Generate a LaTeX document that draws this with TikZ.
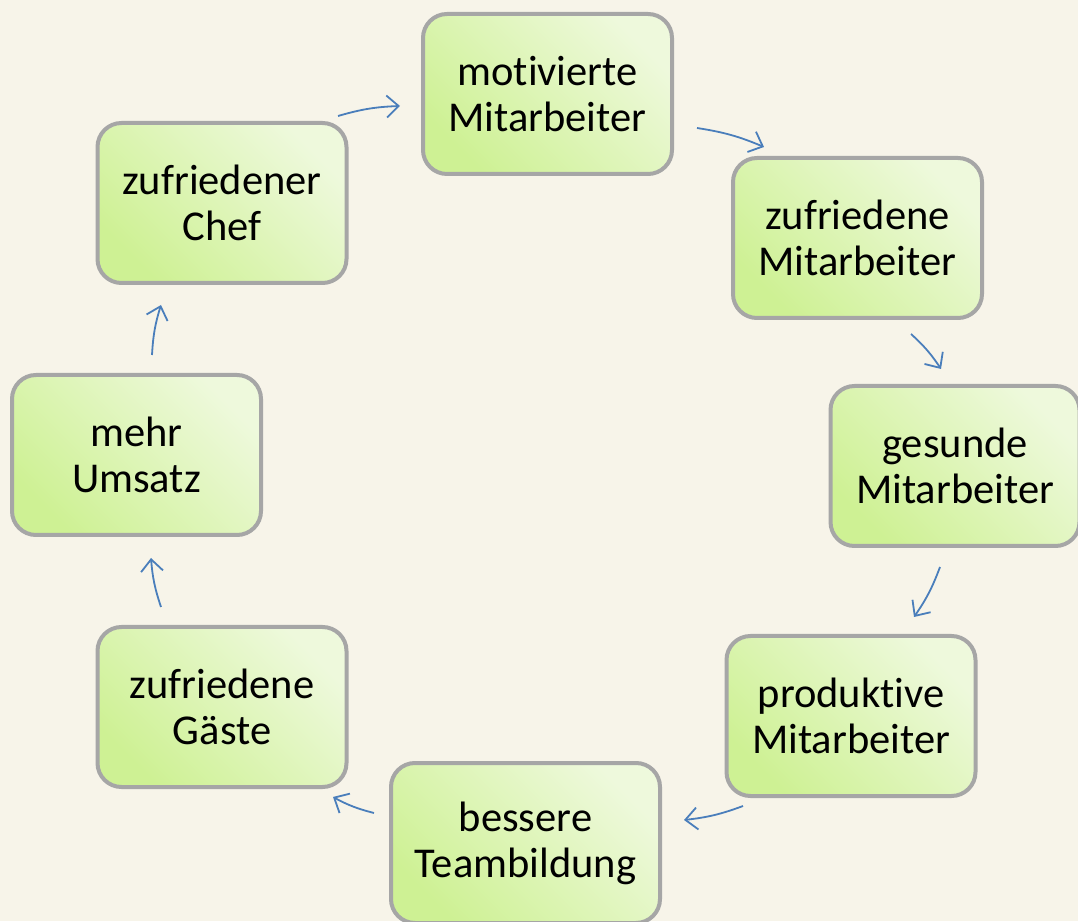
\documentclass[tikz,border=0pt]{standalone}
\usepackage{fontspec}
\setmainfont[Ligatures=NoCommon]{Carlito}
\usetikzlibrary{arrows.meta}
\definecolor{bg}{RGB}{247,244,233}
\definecolor{boxlight}{RGB}{238,249,220}
\definecolor{boxdark}{RGB}{206,241,148}
\definecolor{boxborder}{RGB}{166,166,166}
\definecolor{arrowblue}{RGB}{74,126,187}
\tikzset{
  cyclebox/.style={draw=boxborder, line width=4pt, rounded corners=24pt,
    top color=boxlight, bottom color=boxdark, shading angle=-45,
    minimum width=249pt, minimum height=160pt, align=center,
    inner sep=4pt, font=\fontsize{42.5}{46}\selectfont},
  arr/.style={draw=arrowblue, line width=1.8pt,
    -{Straight Barb[length=12pt,width=22pt,line width=1.8pt]}}
}
\begin{document}
\begin{tikzpicture}[x=1pt,y=1pt]
\useasboundingbox[fill=bg] (0,0) rectangle (1078,921);
\node[cyclebox] (mot) at (547.5,827) {motivierte\\Mitarbeiter};
\node[cyclebox] (zuf) at (857.5,683) {zufriedene\\Mitarbeiter};
\node[cyclebox] (ges) at (955,455) {gesunde\\Mitarbeiter};
\node[cyclebox] (pro) at (851,205) {produktive\\Mitarbeiter};
\node[cyclebox, minimum width=269pt] (tea) at (525.5,78) {bessere\\Teambildung};
\node[cyclebox] (gae) at (222,214) {zufriedene\\Gäste};
\node[cyclebox] (ums) at (136.5,466) {mehr\\Umsatz};
\node[cyclebox] (che) at (222,718) {zufriedener\\Chef};
\coordinate (a1) at (338,805); \coordinate (a2) at (400,815);
\coordinate (b1) at (697,793); \coordinate (b2) at (764,774);
\coordinate (c1) at (911,587); \coordinate (c2) at (941,552);
\coordinate (d1) at (940,354); \coordinate (d2) at (914,304);
\coordinate (e1) at (743,115); \coordinate (e2) at (684,101);
\coordinate (f1) at (374,108); \coordinate (f2) at (333,124);
\coordinate (g1) at (161,314); \coordinate (g2) at (151,363);
\coordinate (h1) at (152,566); \coordinate (h2) at (161,616);
\draw[arr] (a1) to[bend left=7] (a2);
\draw[arr] (b1) to[bend left=7] (b2);
\draw[arr] (c1) to[bend left=7] (c2);
\draw[arr] (d1) to[bend left=7] (d2);
\draw[arr] (e1) to[bend left=7] (e2);
\draw[arr] (f1) to[bend left=7] (f2);
\draw[arr] (g1) to[bend left=7] (g2);
\draw[arr] (h1) to[bend left=7] (h2);
\end{tikzpicture}
\end{document}
